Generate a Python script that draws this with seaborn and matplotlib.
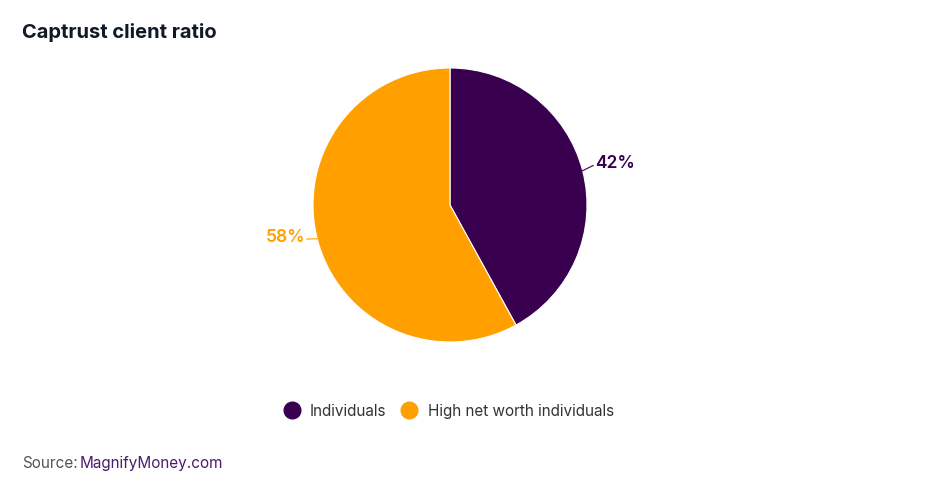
import numpy as np
import matplotlib
matplotlib.use('Agg')
import matplotlib.pyplot as plt
import seaborn as sns

# dados do grafico
categories = ['Individuals', 'High net worth individuals']
shares = [42, 58]
colors = ['#3a0050', '#ffa000']

sns.set_theme(style='white')
plt.rcParams['font.family'] = ['Inter', 'DejaVu Sans']

fig = plt.figure(figsize=(9.4, 4.86), dpi=100)
ax = fig.add_axes([313 / 940, 144 / 486, 274 / 940, 274 / 486])

wedges, _ = ax.pie(shares, colors=colors, startangle=90, counterclock=False,
                   wedgeprops=dict(edgecolor='white', linewidth=0.8))
ax.set_xlim(-1, 1)
ax.set_ylim(-1, 1)
ax.set_aspect('equal')

# rotulos de porcentagem com linha guia
for w, val, c in zip(wedges, shares, colors):
    ang = np.deg2rad((w.theta1 + w.theta2) / 2)
    x, y = np.cos(ang), np.sin(ang)
    ha = 'left' if x > 0 else 'right'
    ax.plot([x * 0.99, x * 1.08], [y * 0.99, y * 1.08 + 0.02], color=c, lw=0.8, clip_on=False)
    ax.text(x * 1.09, y * 1.09 + 0.035, f'{val}%', color=c, ha=ha, va='center',
            fontsize=12.5, fontweight='semibold')

fig.text(22 / 940, 1 - 32 / 486, 'Captrust client ratio', fontsize=14.5,
         fontweight='bold', color='#111827', va='center', ha='left')

handles = [plt.Line2D([], [], marker='o', ls='', markersize=12, color=c) for c in colors]
fig.legend(handles, categories, loc='center', bbox_to_anchor=(445 / 940, 1 - 411 / 486),
           ncol=2, frameon=False, fontsize=11, handletextpad=0.2, columnspacing=0.5,
           labelcolor='#333333')

fig.text(22 / 940, 1 - 463 / 486, 'Source:', fontsize=11, color='#555555', va='center')
fig.text(80 / 940, 1 - 463 / 486, 'MagnifyMoney.com', fontsize=11, color='#4b1c6e', va='center')

fig.savefig('out.png', dpi=100)
